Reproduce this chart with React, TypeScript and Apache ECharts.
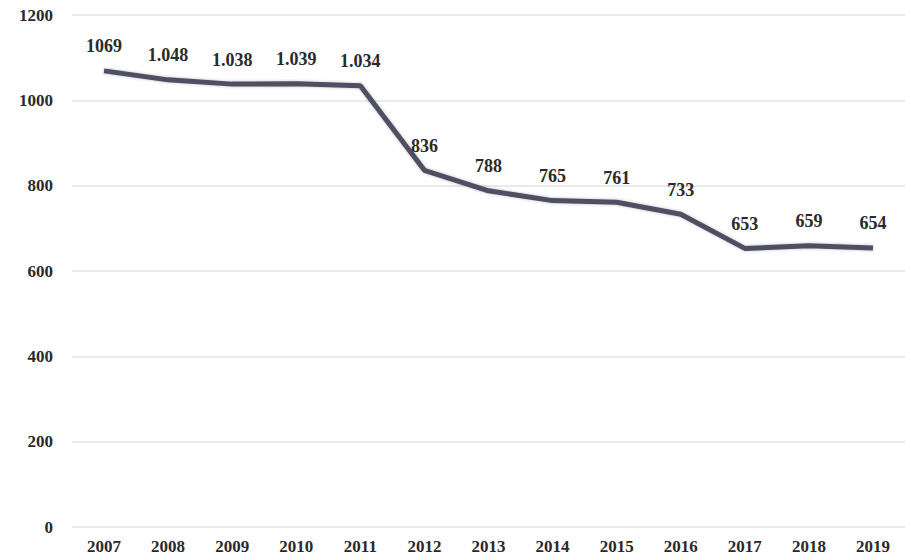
import React, { useEffect, useRef } from "react";
import * as echarts from "echarts";

const years = ["2007","2008","2009","2010","2011","2012","2013","2014","2015","2016","2017","2018","2019"];
const values = [1069, 1048, 1038, 1039, 1034, 836, 788, 765, 761, 733, 653, 659, 654];
const valueLabels = ["1069","1.048","1.038","1.039","1.034","836","788","765","761","733","653","659","654"];

export default function App() {
  const ref = useRef<HTMLDivElement>(null);
  useEffect(() => {
    const chart = echarts.init(ref.current!, null, { renderer: "svg" });
    chart.setOption({
      animation: false,
      backgroundColor: "#ffffff",
      grid: { left: 72, right: 0, top: 15, bottom: 33 },
      xAxis: {
        type: "category",
        data: years,
        boundaryGap: true,
        axisLine: { show: false },
        axisTick: { show: false },
        axisLabel: { fontFamily: "Liberation Serif", fontWeight: "bold", fontSize: 17, color: "#2a2a2a", margin: 11 },
      },
      yAxis: {
        type: "value",
        min: 0,
        max: 1200,
        interval: 200,
        axisLine: { show: false },
        axisTick: { show: false },
        splitLine: { lineStyle: { color: "#e2e2e2", width: 1.5 } },
        axisLabel: {
          fontFamily: "Liberation Serif",
          fontWeight: "bold",
          fontSize: 17,
          color: "#2a2a2a",
          margin: 19,
          formatter: (v: number) => String(v),
        },
      },
      series: [
        {
          type: "line",
          data: values,
          symbol: "circle",
          symbolSize: 1,
          showSymbol: true,
          itemStyle: { color: "#4f4f62", opacity: 0 },
          lineStyle: { color: "#4f4f62", width: 5, shadowColor: "rgba(60,60,90,0.35)", shadowBlur: 3 },
          label: {
            show: true,
            position: "top",
            distance: 15,
            fontFamily: "Liberation Serif",
            fontWeight: "bold",
            fontSize: 18,
            color: "#2a2a2a",
            opacity: 1,
            formatter: (p: any) => valueLabels[p.dataIndex],
          },
        },
      ],
    });
    return () => chart.dispose();
  }, []);
  return <div ref={ref} style={{ width: 905, height: 560, position: "absolute", left: 0, top: 0 }} />;
}
